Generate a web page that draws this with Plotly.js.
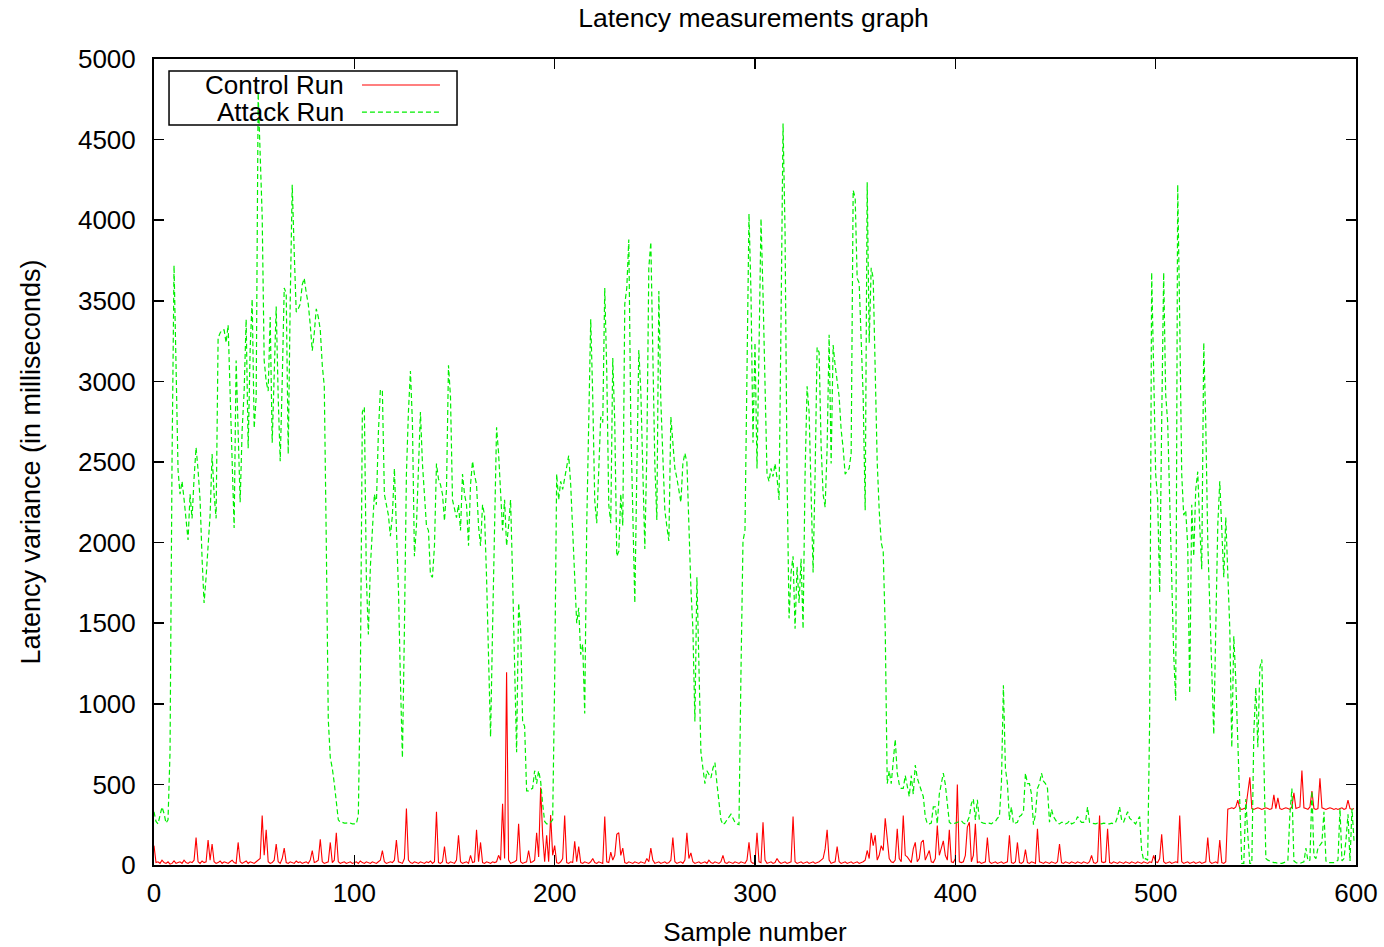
<!DOCTYPE html>
<html>
<head>
<meta charset="utf-8">
<script src="https://cdn.plot.ly/plotly-3.0.1.min.js"></script>
<style>html,body{margin:0;padding:0;background:#fff;overflow:hidden}#chart{width:1384px;height:947px}</style>
</head>
<body>
<div id="chart"></div>
<script>
// Series names
var seriesNames = ["Control Run", "Attack Run"];
var chartTitle = "Latency measurements graph";
var xTitle = "Sample number";
var yTitle = "Latency variance (in milliseconds)";
var xTicks = [0, 100, 200, 300, 400, 500, 600];
var yTicks = [0, 500, 1000, 1500, 2000, 2500, 3000, 3500, 4000, 4500, 5000];

// Control Run latency variance, samples 0..599
var controlRun = [
120,15,20,10,30,15,10,20,5,10,
25,10,15,20,10,30,15,10,20,15,
30,170,20,10,25,15,20,155,30,130,
20,10,15,25,10,20,15,10,20,30,
15,10,140,20,10,15,25,10,20,15,
10,20,30,40,307,60,218,20,10,15,
30,130,20,10,40,105,15,10,20,15,
10,25,15,20,10,15,20,10,30,90,
15,20,30,160,20,10,15,20,140,15,
30,200,20,10,15,20,10,15,20,10,
15,20,10,25,15,10,20,15,10,20,
15,10,20,30,90,20,10,15,20,15,
30,155,20,15,10,40,350,30,15,10,
20,15,10,20,15,10,20,15,25,10,
20,330,15,10,20,115,15,10,20,15,
10,30,185,20,10,15,20,10,60,15,
20,218,20,140,15,10,20,15,10,20,
15,20,60,30,380,40,1195,30,10,15,
20,30,255,20,10,15,20,90,15,20,
30,200,50,480,185,20,185,20,310,60,
120,15,10,20,40,307,15,10,20,15,
147,20,115,15,10,20,15,10,20,40,
15,10,20,15,10,300,20,15,80,30,
60,190,200,60,105,15,10,20,15,10,
20,15,10,20,15,10,40,20,105,30,
10,15,20,10,15,20,10,15,30,170,
20,10,15,20,10,30,200,40,75,20,
10,15,20,10,15,20,10,30,15,10,
20,15,10,20,60,15,10,20,15,10,
20,15,10,20,15,10,30,140,20,10,
15,200,20,15,265,30,10,15,20,10,
15,40,20,10,15,20,10,15,20,300,
20,10,15,20,10,15,20,10,15,20,
10,15,20,30,40,100,218,30,10,15,
20,115,20,10,15,20,10,15,20,10,
15,20,10,15,20,30,90,40,200,120,
185,30,60,120,90,290,150,40,20,15,
30,225,40,20,307,60,50,30,15,100,
140,20,40,140,155,30,60,90,20,15,
40,245,60,105,150,60,30,218,20,15,
40,500,20,15,20,60,235,265,20,60,
255,15,20,10,15,20,170,20,10,15,
20,10,15,20,10,15,20,185,15,10,
20,140,15,10,20,95,15,10,20,15,
10,225,20,15,10,20,15,10,20,15,
10,20,130,15,10,20,15,10,20,15,
10,20,15,10,20,15,10,20,60,15,
10,20,307,20,15,20,225,15,10,20,
15,10,20,15,10,20,15,10,20,15,
10,20,15,10,20,15,10,20,15,60,
20,15,40,190,20,10,15,20,10,15,
20,15,307,20,10,15,20,10,15,20,
10,15,20,10,15,20,170,20,10,15,
20,10,155,15,10,20,346,350,355,350,
360,403,350,345,350,355,450,544,350,345,
350,355,350,345,350,355,350,345,350,435,
350,416,350,345,350,355,350,345,360,448,
350,355,360,586,355,350,345,360,458,350,
345,350,538,355,350,345,350,355,350,345,
350,345,350,355,345,350,403,350,345,350
];

// Attack Run latency variance, samples 0..599
var attackRun = [
330,270,255,300,360,320,260,280,700,2500,
3720,3100,2450,2300,2380,2270,2150,2016,2300,2150,
2400,2590,2450,2265,1900,1625,1785,2000,2170,2550,
2300,2150,3270,3300,3320,3320,3240,3350,2900,2550,
2090,3130,2600,2250,2700,2940,3385,2585,3200,3510,
2710,2900,4790,4400,4025,3130,3000,2940,3400,2620,
3100,3465,2900,2505,3000,3580,3545,2550,3500,4220,
3800,3430,3450,3480,3600,3640,3550,3480,3350,3190,
3300,3450,3400,3320,3100,2970,2000,900,665,600,
505,400,280,265,265,260,260,265,260,255,
255,255,310,1145,2810,2840,1785,1430,1850,2040,
2300,2235,2680,2950,2940,2300,2220,2170,2040,2170,
2460,2100,1720,1145,665,1465,2425,2810,3065,2745,
1915,2105,2425,2810,2490,2300,2105,2075,1800,1785,
1980,2490,2395,2360,2300,2135,2330,3100,2905,2265,
2200,2155,2235,2075,2425,2300,2235,1980,2360,2505,
2420,2360,2100,1980,2235,2170,1785,1300,795,1465,
2235,2715,2555,2300,2075,2265,1980,2105,2265,1785,
1200,700,1625,1465,890,860,460,460,470,475,
585,505,585,520,380,270,255,255,265,280,
1145,2425,2265,2380,2330,2400,2460,2540,2360,2040,
1800,1500,1595,1305,1370,940,2105,2745,3385,2905,
2265,2120,2425,2780,2745,3580,3065,2235,2120,3145,
2745,1915,1945,2300,2105,3480,3580,3880,2745,2105,
1625,2425,3195,2940,2395,1960,2555,3705,3865,3225,
2490,2140,3560,2875,2500,2200,2100,2010,2780,2600,
2460,2400,2330,2250,2490,2555,2500,2105,1720,1465,
890,1785,1275,700,600,505,585,560,540,600,
635,505,400,280,250,260,280,300,315,290,
265,255,250,1200,2010,2075,3065,4040,3545,2620,
3240,2460,3200,4010,3545,3000,2425,2380,2460,2410,
2490,2400,2265,3385,4600,3930,2425,1530,1815,1915,
1465,1850,1625,1900,1465,2425,2970,2810,2265,1815,
2425,3210,3180,2600,2300,2220,2585,3290,2490,3225,
3100,3000,2905,2700,2585,2425,2440,2460,2555,4185,
4140,3640,3610,3300,2905,2200,4235,3240,3705,3640,
3065,2500,2200,2000,1945,1465,505,585,505,635,
780,570,500,475,475,555,500,425,555,440,
620,540,500,460,425,300,255,255,260,360,
360,255,440,505,570,500,380,265,255,255,
260,265,270,275,260,255,270,300,380,410,
280,405,280,265,260,255,255,260,255,265,
270,290,300,505,1115,600,505,280,360,255,
260,265,300,310,330,570,505,505,440,250,
315,475,505,570,520,505,475,265,345,300,
280,260,255,265,265,255,260,275,255,260,
270,300,280,265,265,270,360,265,260,255,
255,260,255,255,260,255,255,255,260,255,
265,300,360,280,265,300,330,290,280,265,
255,280,300,90,30,40,30,900,3675,3065,
2425,2265,1690,2745,3675,2920,2745,2265,1785,1305,
1020,4220,3385,2425,2170,2200,1980,1065,2235,1915,
2330,2440,2105,1835,3240,2745,2010,1600,1305,810,
1465,2105,2380,2105,1785,2155,1785,1465,730,1420,
1145,760,380,10,10,410,185,10,10,825,
1100,730,1225,1275,665,40,30,25,20,15,
15,10,10,10,15,20,30,315,475,25,
15,10,10,15,20,105,25,30,460,55,
40,105,120,140,330,25,15,15,15,15,
20,30,350,25,40,155,315,25,350,150
];

var samples = attackRun.map(function (_, i) { return i; });

var traces = [
  {
    x: samples, y: controlRun, name: seriesNames[0], type: "scatter", mode: "lines",
    line: { color: "#ff0000", width: 1.1 }, showlegend: false
  },
  {
    x: samples, y: attackRun, name: seriesNames[1], type: "scatter", mode: "lines",
    line: { color: "#00ee00", width: 1.2, dash: "5px,3px" }, showlegend: false
  }
];

var fontFam = "'Liberation Sans', Arial, Helvetica, sans-serif";

var layout = {
  width: 1384, height: 947,
  margin: { l: 154, r: 28, t: 59, b: 82 },
  paper_bgcolor: "#ffffff", plot_bgcolor: "#ffffff",
  font: { family: fontFam, size: 26, color: "#000" },
  showlegend: false,
  title: {
    text: chartTitle, font: { family: fontFam, size: 26.5, color: "#000" },
    x: 0.5445, xanchor: "center", xref: "container",
    y: 0.981, yanchor: "middle", yref: "container"
  },
  xaxis: {
    range: [0, 600], tickvals: xTicks, ticktext: xTicks.map(String),
    ticks: "inside", ticklen: 10, tickwidth: 1.5, tickcolor: "#000",
    showline: true, linecolor: "#000", linewidth: 2, mirror: "ticks",
    showgrid: false, zeroline: false,
    tickfont: { family: fontFam, size: 26, color: "#000" },
    ticklabelstandoff: 4,
    title: { text: xTitle, font: { family: fontFam, size: 26, color: "#000" }, standoff: 20 }
  },
  yaxis: {
    range: [0, 5000], tickvals: yTicks, ticktext: yTicks.map(String),
    ticks: "inside", ticklen: 10, tickwidth: 1.5, tickcolor: "#000",
    showline: true, linecolor: "#000", linewidth: 2, mirror: "ticks",
    showgrid: false, zeroline: false,
    tickfont: { family: fontFam, size: 26, color: "#000" },
    ticklabelstandoff: 11,
    title: { text: yTitle, font: { family: fontFam, size: 27, color: "#000" }, standoff: 30 }
  },
  shapes: [
    { type: "rect", xref: "paper", yref: "paper", x0: 0.0125, x1: 0.2521, y0: 0.9181, y1: 0.9851,
      line: { color: "#000", width: 1.5 }, fillcolor: "rgba(0,0,0,0)", layer: "below" },
    { type: "line", xref: "paper", yref: "paper", x0: 0.1730, x1: 0.2379, y0: 0.9677, y1: 0.9677,
      line: { color: "#ff0000", width: 1.1 } },
    { type: "line", xref: "paper", yref: "paper", x0: 0.1730, x1: 0.2379, y0: 0.9342, y1: 0.9342,
      line: { color: "#00ee00", width: 1.2, dash: "5px,3px" } }
  ],
  annotations: [
    { xref: "paper", yref: "paper", x: 0.1597, y: 0.9677, xanchor: "right", yanchor: "middle",
      text: seriesNames[0], showarrow: false, font: { family: fontFam, size: 26, color: "#000" } },
    { xref: "paper", yref: "paper", x: 0.1597, y: 0.9342, xanchor: "right", yanchor: "middle",
      text: seriesNames[1], showarrow: false, font: { family: fontFam, size: 26, color: "#000" } }
  ]
};

Plotly.newPlot("chart", traces, layout, { displayModeBar: false, staticPlot: true });
</script>
</body>
</html>
